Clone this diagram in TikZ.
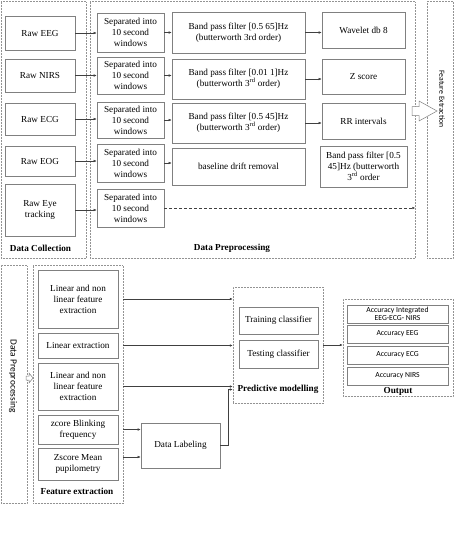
\documentclass[tikz,border=0pt]{standalone}
\usepackage{fontspec}
\setmainfont{Liberation Serif}
\newfontfamily\calibri{Carlito}
\usepackage{tikz}
\usetikzlibrary{arrows.meta}

\tikzset{
  box/.style={draw=gray, line width=0.6pt, align=center, inner sep=1pt,
              font=\fontsize{9.2}{11}\selectfont},
  group/.style={draw=gray!85, densely dotted, line width=0.5pt},
  grouplabel/.style={font=\fontsize{9.2}{11}\selectfont\bfseries},
  sidelabel/.style={rotate=-90, font=\calibri\fontsize{7.7}{9}\selectfont},
  outbox/.style={draw=gray, line width=0.6pt, align=center, inner sep=0pt,
                 minimum width=101, minimum height=18,
                 font=\calibri\fontsize{7.7}{8}\selectfont},
  arr/.style={draw=black!75, line width=0.5pt, -{Latex[length=3pt,width=2.6pt]}},
  hollow/.style={draw=gray, fill=white, line width=0.5pt}
}

\begin{document}
\begin{tikzpicture}[x=1pt, y=-1pt]
\useasboundingbox (0,0) rectangle (454,550);

% groups, top half
\node [group, minimum width=85, minimum height=257] (dcol)
       at (43.5,129.5) {};
\node [group, minimum width=325, minimum height=257] (dpre)
       at (252.5,129.5) {};
\node [group, minimum width=26, minimum height=257] (fext)
       at (440,129.5) {};
\node [grouplabel] (dcoll) at (40.5,248) {Data Collection};
\node [grouplabel] (dprel) at (232,248) {Data Preprocessing};
\node [sidelabel] (fextl) at (442,99) {Feature Extraction};

% raw signals
\node [box, minimum width=70, minimum height=34] (reeg)
       at (40,33) {Raw EEG};
\node [box, minimum width=70, minimum height=33] (rnirs)
       at (40,75.5) {Raw NIRS};
\node [box, minimum width=70, minimum height=32] (recg)
       at (40,119) {Raw ECG};
\node [box, minimum width=70, minimum height=30] (reog)
       at (40,161) {Raw EOG};
\node [box, minimum width=70, minimum height=52] (reye)
       at (40,210) {Raw Eye\\tracking};

% windowing
\node [box, minimum width=67, minimum height=39] (s1)
       at (130.5,32.5) {Separated into\\10 second\\windows};
\node [box, minimum width=67, minimum height=37] (s2)
       at (130.5,75.5) {Separated into\\10 second\\windows};
\node [box, minimum width=67, minimum height=36] (s3)
       at (130.5,120) {Separated into\\10 second\\windows};
\node [box, minimum width=67, minimum height=38] (s4)
       at (130.5,163) {Separated into\\10 second\\windows};
\node [box, minimum width=67, minimum height=38] (s5)
       at (130.5,208) {Separated into\\10 second\\windows};

% filters
\node [box, minimum width=133, minimum height=41] (b1)
       at (238.5,32.5) {Band pass filter [0.5 65]Hz\\(butterworth 3rd order)};
\node [box, minimum width=133, minimum height=40] (b2)
       at (238.5,79) {Band pass filter [0.01 1]Hz\\(butterworth 3\textsuperscript{rd} order)};
\node [box, minimum width=133, minimum height=40] (b3)
       at (238.5,123) {Band pass filter [0.5 45]Hz\\(butterworth 3\textsuperscript{rd} order)};
\node [box, minimum width=133, minimum height=37] (b4)
       at (238.5,166.5) {baseline drift removal};

% last step
\node [box, minimum width=83, minimum height=36] (wav)
       at (363.5,30) {Wavelet db 8};
\node [box, minimum width=83, minimum height=35] (zsc)
       at (363.5,76.5) {Z score};
\node [box, minimum width=83, minimum height=36] (rri)
       at (363.5,121) {RR intervals};
\node [box, minimum width=87, minimum height=41] (beog)
       at (363.5,166.5) {Band pass filter [0.5\\45]Hz (butterworth\\3\textsuperscript{rd} order};

\draw [arr] (reeg) -- (reeg -| s1.west);
\draw [arr] (rnirs) -- (rnirs -| s2.west);
\draw [arr] (recg) -- (recg -| s3.west);
\draw [arr] (reog) -- (reog -| s4.west);
\draw [arr] (reye) -- (reye -| s5.west);
\draw [arr] (s1) -- (s1 -| b1.west);
\draw [arr] (s2) -- (s2 -| b2.west);
\draw [arr] (s3) -- (s3 -| b3.west);
\draw [arr] (s4) -- (s4 -| b4.west);
\draw [arr] (b1) -- (b1 -| wav.west);
\draw [arr] (b2) -- (b2 -| zsc.west);
\draw [arr] (b3) -- (b3 -| rri.west);
\draw [arr, dash pattern=on 3pt off 2pt] (s5) -- (s5 -| dpre.east);
\draw [hollow] (412,106.5) -- (419,106.5) -- (419,101) -- (437,111)
       -- (419,121) -- (419,115.5) -- (412,115.5) -- cycle;

% groups, bottom half
\node [group, minimum width=26, minimum height=238] (dpre2)
       at (14,384) {};
\node [group, minimum width=90, minimum height=238] (fext2)
       at (78,384) {};
\node [group, minimum width=90, minimum height=116] (pmod)
       at (278,345) {};
\node [group, minimum width=110, minimum height=97] (outp)
       at (398,347.5) {};
\node [sidelabel, font=\calibri\fontsize{9.4}{11}\selectfont] (dpre2l)
       at (13,376) {Data Preprocessing};
\node [grouplabel] (fext2l) at (77,491) {Feature extraction};
\node [grouplabel] (pmodl) at (278,389.5) {Predictive modelling};
\node [grouplabel] (outpl) at (398,391) {Output};
\draw [hollow] (26,376) -- (29,376) -- (29,373) -- (33,378)
       -- (29,383) -- (29,380) -- (26,380) -- cycle;

% features
\node [box, minimum width=80, minimum height=58] (f1)
       at (78,299) {Linear and non\\linear feature\\extraction};
\node [box, minimum width=80, minimum height=25] (f2)
       at (78,345.5) {Linear extraction};
\node [box, minimum width=80, minimum height=47] (f3)
       at (78,386.5) {Linear and non\\linear feature\\extraction};
\node [box, minimum width=80, minimum height=29] (f4)
       at (78,429.5) {zcore Blinking\\frequency};
\node [box, minimum width=80, minimum height=32] (f5)
       at (78,464) {Zscore Mean\\pupilometry};
\node [box, minimum width=79, minimum height=45] (dlab)
       at (180.5,445.5) {Data Labeling};

% classifiers and results
\node [box, minimum width=79, minimum height=27] (train)
       at (278.5,320.5) {Training classifier};
\node [box, minimum width=79, minimum height=28] (test)
       at (278.5,354) {Testing classifier};
\node [outbox] (acc1) at (397.5,314)
       {Accuracy Integrated\\EEG-ECG- NIRS};
\node [outbox] (acc2) at (397.5,334) {Accuracy EEG};
\node [outbox] (acc3) at (397.5,355) {Accuracy ECG};
\node [outbox] (acc4) at (397.5,376) {Accuracy NIRS};

\coordinate (f5a) at ([yshift=7pt]f5.east);
\draw [arr] (f1 -| fext2.east) -- (f1 -| pmod.west);
\draw [arr] (f2 -| fext2.east) -- (f2 -| pmod.west);
\draw [arr] (f3 -| fext2.east) -- (f3 -| pmod.west);
\draw [arr] (f4 -| fext2.east) -- (f4 -| dlab.west);
\draw [arr] (f5a -| fext2.east) -- (f5a -| dlab.west);
\draw [arr] (dlab.east) -- ++(8,0) |- (pmodl -| pmod.west);
\draw [arr] (pmod) -- (pmod -| outp.west);
\end{tikzpicture}
\end{document}
